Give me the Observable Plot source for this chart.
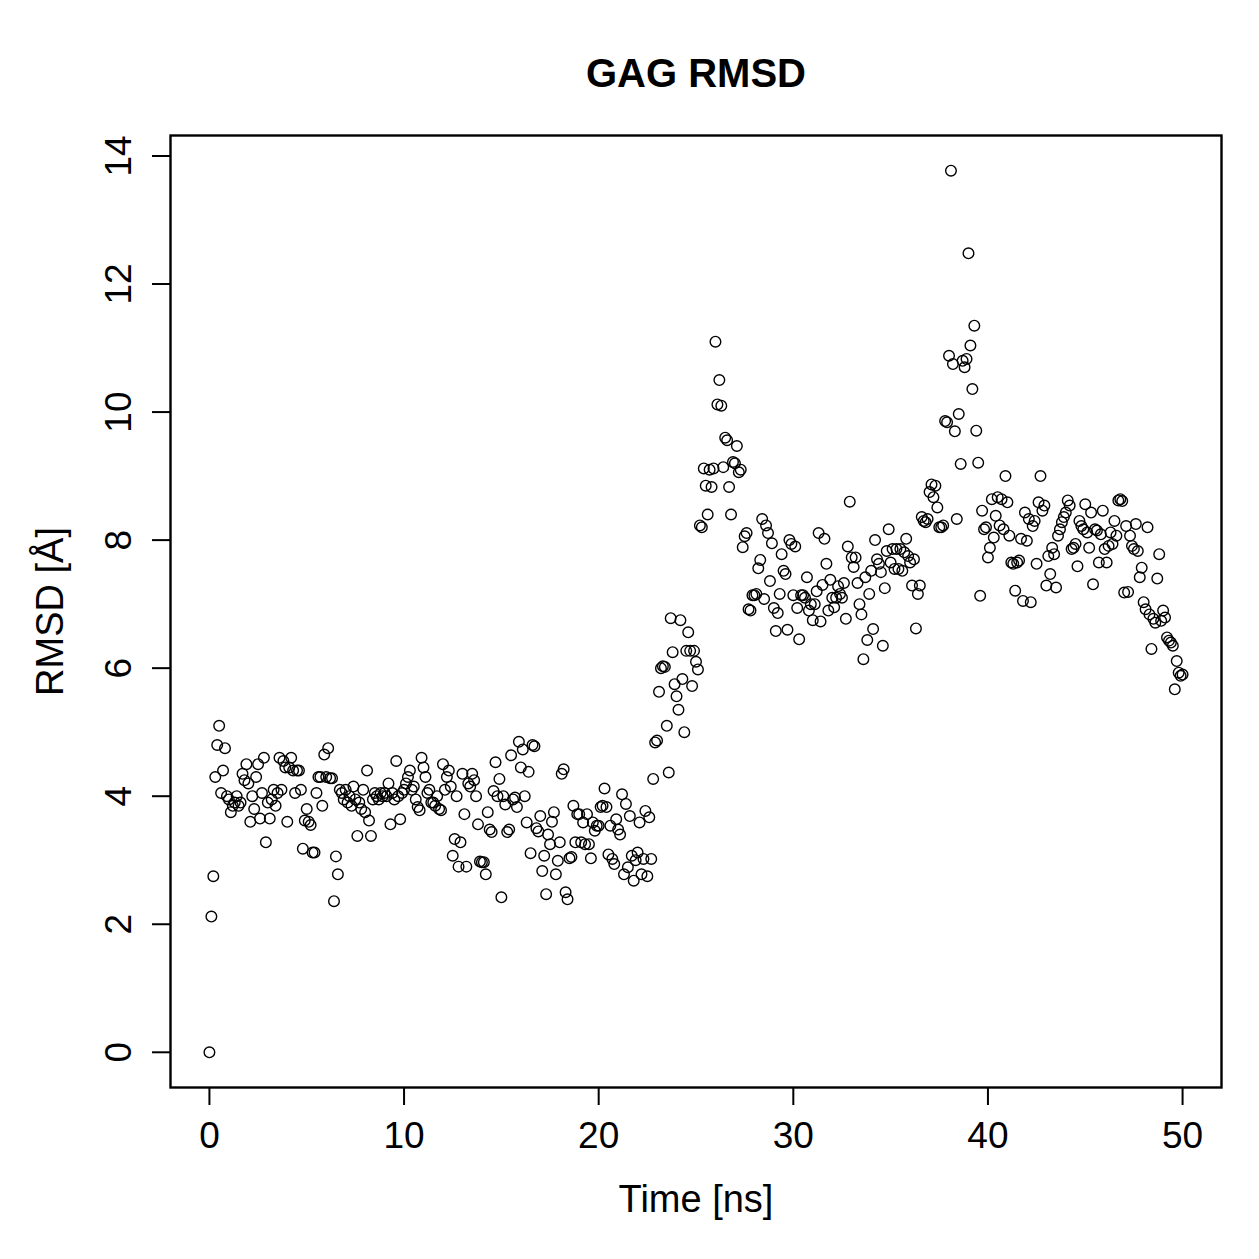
<!DOCTYPE html>
<html>
<head>
<meta charset="utf-8">
<script src="https://cdn.jsdelivr.net/npm/d3@7"></script>
<script src="https://cdn.jsdelivr.net/npm/@observablehq/plot@0.6"></script>
<style>
  html, body { margin: 0; padding: 0; background: #fff; }
  #chart svg { display: block; }
</style>
</head>
<body>
<div id="chart"></div>
<script>
// GAG RMSD trajectory, one frame every 0.1 ns (0–50 ns), values in Å.
const title = "GAG RMSD";
const xLabel = "Time [ns]";
const yLabel = "RMSD [Å]";
const xTicks = [0, 10, 20, 30, 40, 50];
const yTicks = [0, 2, 4, 6, 8, 10, 12, 14];
const timeStep = 0.1;

// RMSD per frame, grouped by nanosecond (10 frames per row).
const rmsd = [
  0, 2.12, 2.75, 4.3, 4.8, 5.1, 4.05, 4.4, 4.75, 4.0,
  3.95, 3.75, 3.85, 3.9, 4.0, 3.85, 3.9, 4.35, 4.25, 4.5,
  4.2, 3.6, 4.0, 3.8, 4.3, 4.5, 3.65, 4.05, 4.6, 3.28,
  3.9, 3.65, 3.95, 4.1, 3.85, 4.05, 4.6, 4.1, 4.55, 4.45,
  3.6, 4.45, 4.6, 4.4, 4.05, 4.4, 4.4, 4.1, 3.18, 3.62,
  3.8, 3.6, 3.55, 3.12, 3.12, 4.05, 4.3, 4.3, 3.85, 4.65,
  4.3, 4.75, 4.28, 4.28, 2.36, 3.06, 2.78, 4.1, 4.05, 3.95,
  4.1, 3.9, 4.0, 3.85, 4.15, 3.95, 3.38, 3.9, 3.8, 4.1,
  3.75, 4.4, 3.62, 3.38, 3.95, 4.05, 4.0, 3.95, 4.05, 4.0,
  4.05, 4.0, 4.2, 3.56, 4.05, 3.95, 4.55, 4.0, 3.64, 4.05,
  4.1, 4.2, 4.3, 4.4, 4.1, 4.15, 3.95, 3.83, 3.78, 4.6,
  4.45, 4.3, 4.05, 4.1, 3.9, 3.9, 3.85, 4.0, 3.8, 3.78,
  4.5, 4.1, 4.3, 4.4, 4.15, 3.07, 3.33, 4.0, 2.9, 3.28,
  4.35, 3.72, 2.9, 4.2, 4.15, 4.35, 4.25, 4.0, 3.56, 2.98,
  2.97, 2.97, 2.78, 3.75, 3.48, 3.44, 4.08, 4.53, 4.0, 4.27,
  2.42, 4.0, 3.87, 3.44, 3.48, 4.64, 3.95, 3.98, 3.83, 4.85,
  4.45, 4.73, 4.0, 3.59, 4.38, 3.11, 4.8, 4.78, 3.5, 3.45,
  3.69, 2.83, 3.07, 2.47, 3.4, 3.25, 3.6, 3.75, 2.78, 2.99,
  3.28, 4.35, 4.42, 2.5, 2.39, 3.03, 3.05, 3.85, 3.28, 3.72,
  3.72, 3.28, 3.59, 3.25, 3.72, 3.25, 3.03, 3.59, 3.46, 3.54,
  3.54, 3.83, 3.85, 4.12, 3.83, 3.09, 3.54, 3.02, 2.94, 3.64,
  3.48, 3.4, 4.03, 2.78, 3.88, 2.89, 3.69, 3.07, 2.68, 3.0,
  3.12, 3.59, 2.78, 3.02, 3.77, 2.75, 3.67, 3.02, 4.27, 4.84,
  4.87, 5.63, 6.0, 6.03, 6.02, 5.1, 4.37, 6.78, 6.25, 5.75,
  5.56, 5.35, 6.75, 5.83, 5.0, 6.27, 6.56, 6.27, 5.72, 6.27,
  6.1, 5.98, 8.23, 8.2, 9.12, 8.85, 8.4, 9.1, 8.83, 9.12,
  11.1, 10.12, 10.5, 10.1, 9.14, 9.6, 9.56, 8.83, 8.4, 9.22,
  9.2, 9.47, 9.06, 9.1, 7.89, 8.06, 8.11, 6.92, 6.9, 7.14,
  7.14, 7.16, 7.56, 7.69, 8.33, 7.08, 8.23, 8.11, 7.36, 7.95,
  6.94, 6.58, 6.86, 7.16, 7.78, 7.52, 7.47, 6.6, 8.0, 7.94,
  7.14, 7.9, 6.94, 6.45, 7.14, 7.14, 7.1, 7.42, 6.9, 7.0,
  6.75, 7.0, 7.2, 8.11, 6.73, 7.3, 8.02, 7.63, 6.9, 7.38,
  7.1, 6.95, 7.1, 7.28, 7.16, 7.1, 7.33, 6.77, 7.9, 8.6,
  7.73, 7.58, 7.73, 7.33, 7.0, 6.84, 6.14, 7.42, 6.44, 7.16,
  7.52, 6.61, 8.0, 7.7, 7.63, 7.5, 6.35, 7.25, 7.83, 8.17,
  7.65, 7.86, 7.55, 7.86, 7.55, 7.86, 7.52, 7.81, 8.02, 7.75,
  7.65, 7.29, 7.7, 6.62, 7.16, 7.29, 8.36, 8.3, 8.28, 8.33,
  8.75, 8.87, 8.67, 8.85, 8.51, 8.2, 8.2, 8.23, 9.86, 9.84,
  10.88, 13.77, 10.75, 9.7, 8.33, 9.97, 9.19, 10.8, 10.7, 10.83,
  12.48, 11.04, 10.36, 11.35, 9.71, 9.21, 7.13, 8.46, 8.17, 8.2,
  7.73, 7.88, 8.64, 8.04, 8.38, 8.67, 8.23, 8.64, 8.17, 9.0,
  8.59, 8.07, 7.65, 7.63, 7.21, 7.65, 7.68, 8.02, 7.05, 8.43,
  7.99, 8.33, 7.03, 8.22, 8.3, 7.63, 8.59, 9.0, 8.46, 8.54,
  7.29, 7.75, 7.47, 7.88, 7.78, 7.26, 8.07, 8.17, 8.28, 8.36,
  8.43, 8.62, 8.54, 7.86, 7.88, 7.94, 7.59, 8.3, 8.22, 8.17,
  8.56, 8.12, 7.88, 8.43, 7.31, 8.17, 8.15, 7.65, 8.09, 8.46,
  7.86, 7.65, 7.91, 8.12, 7.94, 8.3, 8.07, 8.62, 8.64, 8.61,
  7.18, 8.22, 7.19, 8.07, 7.91, 7.86, 8.25, 7.83, 7.42, 7.57,
  7.03, 6.92, 8.2, 6.84, 6.3, 6.77, 6.71, 7.4, 7.78, 6.74,
  6.9, 6.79, 6.48, 6.43, 6.4, 6.35, 5.67, 6.11, 5.93, 5.88,
  5.9
];

const frames = rmsd.map((v, i) => ({time: +(i * timeStep).toFixed(1), rmsd: v}));

const font = "'Liberation Sans', Arial, Helvetica, sans-serif";

const chart = Plot.plot({
  width: 1259,
  height: 1259,
  marginLeft: 170,
  marginRight: 38,
  marginTop: 135,
  marginBottom: 172,
  style: {fontFamily: font, background: "#fff", color: "#000"},
  x: {domain: [-2, 52]},
  y: {domain: [-0.55, 14.32]},
  marks: [
    Plot.frame({stroke: "#000", strokeWidth: 2.4}),
    Plot.axisX({
      ticks: xTicks, tickSize: 18, tickPadding: 16, tickFormat: d => String(d),
      fontSize: 37, strokeWidth: 2, label: null
    }),
    Plot.axisY({
      ticks: yTicks, tickSize: 18, tickPadding: 22, tickFormat: d => String(d),
      tickRotate: -90, fontSize: 37, strokeWidth: 2, label: null
    }),
    Plot.dot(frames, {x: "time", y: "rmsd", r: 5.3, stroke: "#000", strokeWidth: 1.4, fill: "none"}),
    // Axis titles and chart title
    Plot.text([xLabel], {frameAnchor: "bottom", dy: 124, fontSize: 38, fill: "#000"}),
    Plot.text([yLabel], {frameAnchor: "left", textAnchor: "middle", dx: -120, rotate: -90, fontSize: 38, fill: "#000"}),
    Plot.text([title], {frameAnchor: "top", dy: -77, fontSize: 40, fontWeight: "bold", fill: "#000"})
  ]
});

document.getElementById("chart").appendChild(chart);
</script>
</body>
</html>
